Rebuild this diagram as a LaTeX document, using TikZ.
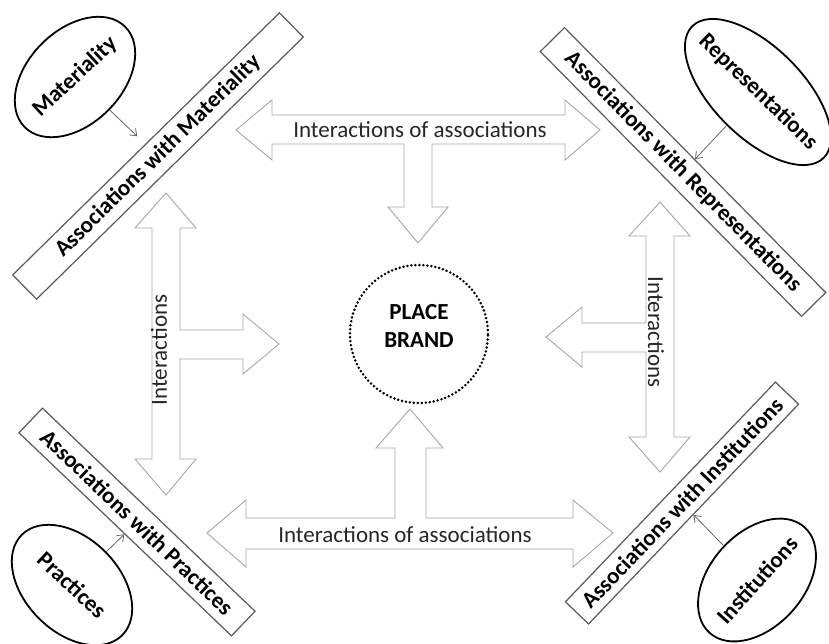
\documentclass[tikz,border=0pt]{standalone}
\usepackage{fontspec}
\setmainfont{Carlito}
\usetikzlibrary{shapes.geometric,arrows.meta}
\begin{document}
\begin{tikzpicture}[x=1pt,y=-1pt,
  every node/.style={font=\fontsize{23}{28}\selectfont, text=black!85},
  block/.style={draw=black!35, line width=0.9pt, line join=miter},
  assoc/.style={draw=black!65, line width=1.2pt, minimum height=34, inner sep=0pt, font=\fontsize{23}{28}\selectfont\bfseries, text=black},
  elli/.style={draw=black, line width=1.8pt, ellipse, inner sep=0pt},
  lbl/.style={font=\fontsize{23}{28}\selectfont\bfseries, text=black},
  feed/.style={draw=black!60, line width=0.8pt, -{Straight Barb[length=6pt,width=9pt]}},
]
\useasboundingbox (0,0) rectangle (829,643);

% block arrows
\draw[block] (236,130) -- (272,100) -- (272,115) -- (565,115) -- (565,100) -- (600,130) -- (565,160) -- (565,144) -- (432,144) -- (432,207) -- (448,207) -- (418,243) -- (388,207) -- (404,207) -- (404,144) -- (272,144) -- (272,160) -- cycle;
\draw[block] (207,533) -- (246,500) -- (246,518) -- (395,518) -- (395,448) -- (376,448) -- (410,409) -- (443,448) -- (426,448) -- (426,518) -- (573,518) -- (573,500) -- (613,533) -- (573,567) -- (573,549) -- (246,549) -- (246,567) -- cycle;
\draw[block] (166,193) -- (196,228) -- (180,228) -- (180,330) -- (243,330) -- (243,314) -- (279,344) -- (243,374) -- (243,359) -- (180,359) -- (180,459) -- (196,459) -- (166,495) -- (135,459) -- (152,459) -- (152,228) -- (135,228) -- cycle;
\draw[block] (660,202) -- (690,236) -- (674,236) -- (674,437) -- (690,437) -- (660,472) -- (629,437) -- (646,437) -- (646,352) -- (582,352) -- (582,367) -- (546,337) -- (582,307) -- (582,323) -- (646,323) -- (646,236) -- (629,236) -- cycle;

% arrow labels
\node (itop) at (420,130) {Interactions of associations};
\node (ibot) at (405,535) {Interactions of associations};
\node[rotate=90] (ileft) at (159,350) {Interactions};
\node[rotate=-90] (iright) at (656,332) {Interactions};

% place brand
\node[circle, draw=black, minimum size=138, line width=2.8pt, dash pattern=on 0pt off 4pt, line cap=round] (pb) at (419,334) {};
\node[lbl, align=center] (pbt) at (419,326) {PLACE\\BRAND};

% association rectangles
\node[assoc, minimum width=374, rotate=44.5] (amat) at (158,156) {Associations with Materiality};
\node[assoc, minimum width=372, rotate=-45.4] (arep) at (683,172) {Associations with Representations};
\node[assoc, minimum width=294, rotate=-43.7] (aprac) at (137,522) {Associations with Practices};
\node[assoc, minimum width=304, minimum height=32, rotate=46.3] (ainst) at (682,503) {Associations with Institutions};

% ellipses
\node[elli, minimum width=142, minimum height=94, rotate=45] (mat) at (75,77) {};
\node[lbl, rotate=43] (matt) at (mat) {Materiality};
\node[elli, minimum width=186, minimum height=90, rotate=-45] (rep) at (758,92) {};
\node[lbl, rotate=-44] (rept) at (rep) {Representations};
\node[elli, minimum width=142, minimum height=94, rotate=-45] (prac) at (72,585) {};
\node[lbl, rotate=-43] (pract) at (prac) {Practices};
\node[elli, minimum width=142, minimum height=94, rotate=48] (inst) at (757,580) {};
\node[lbl, rotate=48] (instt) at (inst) {Institutions};

% feed arrows
\draw[feed, shorten >=11pt] (mat) -- (amat);
\draw[feed] (rep) -- (arep);
\draw[feed] (prac) -- (aprac);
\draw[feed] (inst) -- (ainst);
\end{tikzpicture}
\end{document}
